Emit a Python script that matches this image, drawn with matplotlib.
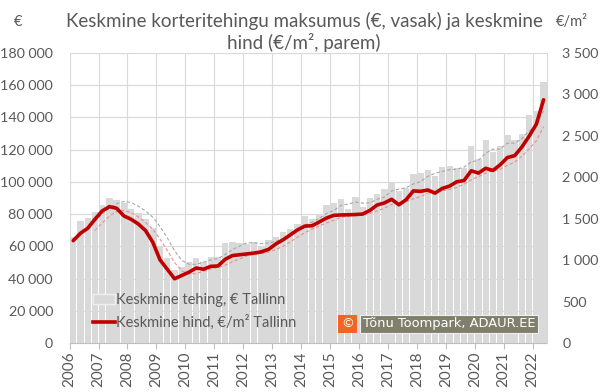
import numpy as np
import pandas as pd
import matplotlib
matplotlib.use("Agg")
import matplotlib.pyplot as plt
from matplotlib.patches import Patch
from matplotlib.lines import Line2D

plt.rcParams['font.family'] = ['Lato', 'DejaVu Sans']

years = list(range(2006, 2023))

# keskmine tehing, EUR (kvartalid 2006Q1 .. 2022Q2)
deal = [
    66000, 75700, 77800, 81500,      # 2006
    85600, 89800, 88800, 87000,      # 2007
    83000, 80700, 77000, 71400,      # 2008
    59800, 52700, 45300, 47400,      # 2009
    50000, 52600, 50500, 53200,      # 2010
    53500, 62300, 62900, 61900,      # 2011
    61500, 62500, 60500, 63800,      # 2012
    65600, 68700, 70700, 73900,      # 2013
    78800, 76800, 79900, 85600,      # 2014
    86700, 89200, 83400, 90400,      # 2015
    84200, 89800, 92500, 95400,      # 2016
    99700, 94200, 96000, 104900,     # 2017
    105300, 107400, 103700, 109400,  # 2018
    109600, 108800, 108400, 122300,  # 2019
    114300, 126000, 118700, 122300,  # 2020
    129000, 126000, 129700, 141200,  # 2021
    143700, 162100,                  # 2022
]

# keskmine hind, EUR/m2
price = [
    1235, 1324, 1384, 1493,
    1593, 1645, 1626, 1533,
    1493, 1436, 1356, 1215,
    1002, 890, 775, 815,
    855, 905, 890, 925,
    929, 1010, 1055, 1065,
    1075, 1085, 1100, 1130,
    1195, 1245, 1305, 1365,
    1410, 1415, 1460, 1508,
    1540, 1545, 1547, 1550,
    1556, 1600, 1665, 1690,
    1734, 1668, 1728, 1835,
    1830, 1846, 1808, 1865,
    1893, 1945, 1960, 2078,
    2050, 2108, 2082, 2150,
    2238, 2260, 2365, 2495,
    2640, 2935,
]

# 4 kvartali libisev keskmine (nagu Exceli trendijoon)
ma_deal = pd.Series(deal).rolling(4).mean()
ma_price = pd.Series(price).rolling(4).mean()

x = np.arange(len(deal)) + 0.5
txt = '#595959'

fig = plt.figure(figsize=(6, 3.92), dpi=100)
ax = fig.add_axes([0.116, 0.125, 0.796, 0.74])

ax.bar(x, deal, width=0.88, color='#d9d9d9', zorder=2)
ax.plot(x, ma_deal, color='#a6a6a6', lw=0.8, ls=(0, (3, 2)), zorder=3)
ax.set_xlim(0, len(deal))
ax.set_ylim(0, 180000)
yt = list(range(0, 180001, 20000))
ax.set_yticks(yt)
ax.set_yticklabels([f"{v:,}".replace(",", " ") for v in yt])
ax.set_xticks(np.arange(0, len(deal), 4))
ax.set_xticklabels([str(y) for y in years], rotation=90)
ax.grid(color='#d9d9d9', lw=0.8)
ax.set_axisbelow(True)
ax.tick_params(axis='y', length=0, pad=12, labelsize=10.3, labelcolor=txt)
ax.tick_params(axis='x', length=4, width=0.8, color='#bfbfbf', pad=2,
               labelsize=11, labelcolor=txt)
for s in ['top', 'left', 'right']:
    ax.spines[s].set_visible(False)
ax.spines['bottom'].set_color('#bfbfbf')

ax2 = ax.twinx()
ax2.plot(x, ma_price, color='#f08c8c', lw=0.8, ls=(0, (3, 2)), zorder=3)
ax2.plot(x, price, color='#c00000', lw=2.6, zorder=5,
         solid_capstyle='round', solid_joinstyle='round')
ax2.set_ylim(0, 3500)
pt = list(range(0, 3501, 500))
ax2.set_yticks(pt)
ax2.set_yticklabels([f"{v:,}".replace(",", " ") for v in pt])
ax2.tick_params(axis='y', length=0, pad=11, labelsize=10.3, labelcolor=txt)
for s in ['top', 'left', 'bottom']:
    ax2.spines[s].set_visible(False)
ax2.spines['right'].set_color('#d9d9d9')

handles = [Patch(facecolor='#d9d9d9', edgecolor='#eeeeee'),
           Line2D([0], [0], color='#c00000', lw=2.6)]
labels = ['Keskmine tehing, € Tallinn', 'Keskmine hind, €/m² Tallinn']
ax2.legend(handles, labels, loc='upper left', bbox_to_anchor=(80 / 600, 1 - 280 / 392),
           bbox_transform=fig.transFigure, frameon=False, fontsize=10.5,
           labelcolor=txt, handlelength=1.5, handletextpad=0.1, labelspacing=0.55)

fig.text(0.507, 1 - 32 / 392,
         "Keskmine korteritehingu maksumus (€, vasak) ja keskmine\nhind (€/m², parem)",
         ha='center', va='center', fontsize=13.5, color=txt, linespacing=1.2)
fig.text(18 / 600, 1 - 22 / 392, "€", ha='center', va='center', fontsize=10.5, color=txt)
fig.text(572 / 600, 1 - 22 / 392, "€/m²", ha='center', va='center', fontsize=10.5, color=txt)

# autori kast
fig.text(449 / 600, 1 - 324 / 392, "Tõnu Toompark, ADAUR.EE", family='DejaVu Sans',
         ha='center', va='center', fontsize=9.4, color='white', zorder=10,
         bbox=dict(boxstyle='square,pad=0.22', facecolor='#7f7f6c', edgecolor='#eeeeee', lw=0.8))
fig.text(347.5 / 600, 1 - 324 / 392, "©", family='DejaVu Sans',
         ha='center', va='center', fontsize=9.4, color='white', zorder=11,
         bbox=dict(boxstyle='square,pad=0.22', facecolor='#f26522', edgecolor='none'))

fig.savefig("out.png", dpi=100)
